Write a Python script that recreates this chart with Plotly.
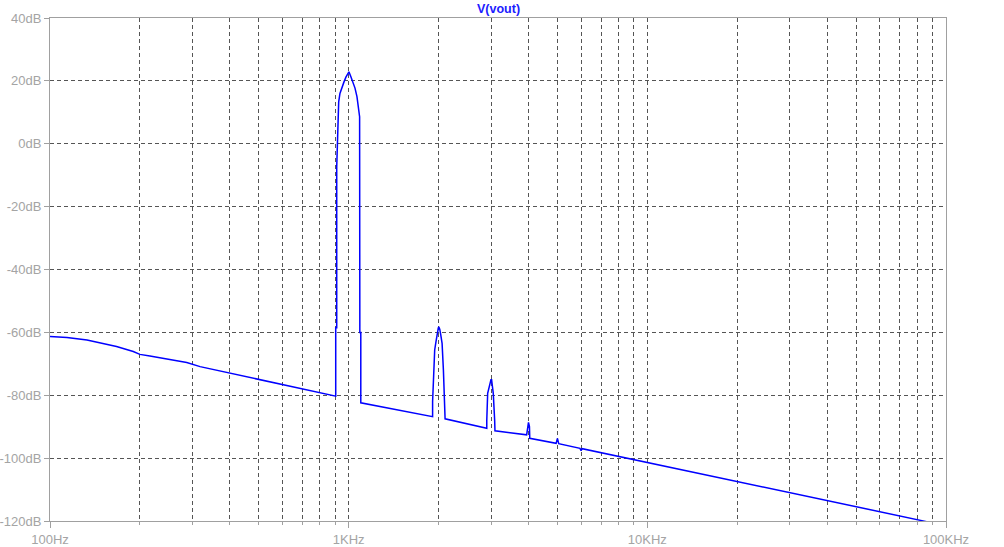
import plotly.graph_objects as go

# ---- data (frequency in Hz, magnitude in dB) ----
freq_hz = [
    100, 114, 133, 147, 167, 190, 200, 216, 246, 287, 318, 905,
    905, 912, 912, 926, 935, 950, 964, 979, 1002, 1018, 1034, 1050, 1066, 1080, 1088,
    1090, 1098, 1098,
    1910, 1910, 1925, 1941, 1960, 1975, 1995, 2003, 2018, 2034, 2055, 2076, 2087, 2092,
    2103, 2900, 2900, 2920, 2950, 2995, 3010, 3026, 3049, 3082, 3089,
    3944, 3970, 4000, 4030, 4040,
    4950, 5000, 5050,
    5950, 6000, 6050,
    86100,
]
vout_db = [
    -61.3, -61.6, -62.4, -63.3, -64.5, -66.1, -67.0, -67.5, -68.4, -69.6, -70.9, -80.3,
    -58.5, -58.5, -7.4, 13.3, 16.0, 18.1, 19.6, 21.2, 22.9, 21.2, 19.6, 17.7, 15.0, 10.7, 8.6,
    -60.0, -60.0, -82.4,
    -86.8, -82.0, -72.0, -65.6, -63.0, -60.3, -58.7, -58.2, -59.0, -60.8, -63.5, -72.0, -82.0, -87.4,
    -87.5, -90.5, -88.0, -79.4, -77.3, -75.1, -75.1, -77.3, -79.4, -88.0, -91.3,
    -92.6, -90.0, -88.6, -90.0, -93.7,
    -95.3, -93.7, -95.4,
    -96.9, -97.6, -97.0,
    -120.2,
]

x_major_vals = [100, 1000, 10000, 100000]
x_major_text = ["100Hz", "1KHz", "10KHz", "100KHz"]
x_minor_vals = [m * d for d in (100, 1000, 10000) for m in range(2, 10)]
y_tick_vals = [40, 20, 0, -20, -40, -60, -80, -100, -120]
y_tick_text = [f"{v}dB" for v in y_tick_vals]

label_color = "#a4a4a4"
frame_color = "#a0a0a0"
grid_color = "#555555"
grid_dash = "4px,3px"
font_family = "Liberation Sans, Arial, sans-serif"

fig = go.Figure()
fig.add_trace(go.Scatter(
    x=freq_hz, y=vout_db, mode="lines",
    line=dict(color="#0000ff", width=1.5),
    name="V(vout)", showlegend=False, hoverinfo="x+y",
))

fig.update_layout(
    width=1004, height=547,
    margin=dict(l=50, r=58, t=18, b=26, autoexpand=False),
    paper_bgcolor="white", plot_bgcolor="white",
    font=dict(family=font_family, size=13, color=label_color),
    showlegend=False,
    annotations=[dict(
        text="<b>V(vout)</b>", xref="paper", yref="paper", x=0.5, y=1,
        yanchor="middle", yshift=9, showarrow=False,
        font=dict(family=font_family, size=12.5, color="#2020ff"),
    )],
)

fig.update_xaxes(
    type="log", range=[2, 5], automargin=False,
    tickmode="array", tickvals=x_major_vals, ticktext=x_major_text,
    ticks="outside", ticklen=6, tickcolor=frame_color, tickwidth=1,
    tickfont=dict(family=font_family, size=13, color=label_color),
    showline=True, linecolor=frame_color, linewidth=1, mirror=True,
    showgrid=True, gridcolor=grid_color, griddash=grid_dash, gridwidth=1,
    zeroline=False,
    minor=dict(tickmode="array", tickvals=x_minor_vals, ticks="outside", ticklen=3,
               tickcolor=frame_color, showgrid=True, gridcolor=grid_color,
               griddash=grid_dash, gridwidth=1),
)
fig.update_yaxes(
    range=[-120, 40], automargin=False,
    tickmode="array", tickvals=y_tick_vals, ticktext=y_tick_text,
    ticks="outside", ticklen=5, tickcolor=frame_color, tickwidth=1,
    tickfont=dict(family=font_family, size=13, color=label_color),
    showline=True, linecolor=frame_color, linewidth=1, mirror=True,
    showgrid=True, gridcolor=grid_color, griddash=grid_dash, gridwidth=1,
    zeroline=False,
)

fig.write_html(
    "out.html",
    config={"displayModeBar": False},
    post_script="document.body.style.margin='0';document.body.style.overflow='hidden';",
)
